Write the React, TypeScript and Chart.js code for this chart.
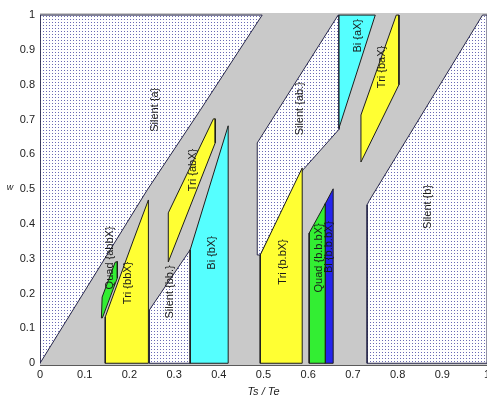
import React, { useEffect, useRef } from "react";
import { Chart, registerables } from "chart.js";

Chart.register(...registerables);

// Tick values on both axes
const xTicks = [0, 0.1, 0.2, 0.3, 0.4, 0.5, 0.6, 0.7, 0.8, 0.9, 1];
const yTicks = [0, 0.1, 0.2, 0.3, 0.4, 0.5, 0.6, 0.7, 0.8, 0.9, 1];

// Region outlines as [Ts/Te, w] vertices
const silentA = [[0, 0], [0.24, 0.498], [0.359, 0.728], [0.497, 1], [0, 1]];
const silentAB = [[0.486, 0.311], [0.486, 0.633], [0.667, 1], [0.669, 1], [0.669, 0.672], [0.588, 0.555], [0.4927, 0.311]];
const silentBB = [[0.2447, 0], [0.336, 0], [0.336, 0.326], [0.2447, 0.153]];
const silentB = [[0.7318, 0], [1, 0], [1, 1], [0.99, 1], [0.737, 0.468], [0.7318, 0.455]];

const quadABBX = [[0.1374, 0.13], [0.139, 0.19], [0.168, 0.29], [0.173, 0.292], [0.173, 0.245], [0.1395, 0.13]];
const triBBX = [[0.146, 0], [0.2425, 0], [0.2425, 0.469], [0.209, 0.354], [0.146, 0.133]];
const triABX = [[0.287, 0.291], [0.287, 0.432], [0.388, 0.702], [0.392, 0.702], [0.392, 0.633]];
const biBX = [[0.336, 0], [0.421, 0], [0.421, 0.682], [0.336, 0.326]];
const triBdotBX = [[0.4927, 0], [0.5866, 0], [0.5866, 0.561], [0.4927, 0.311]];
const quadBBBX = [[0.6022, 0], [0.638, 0], [0.638, 0.458], [0.6022, 0.374]];
const biBBBX = [[0.638, 0], [0.6559, 0], [0.6559, 0.501], [0.638, 0.458]];
const biAX = [[0.669, 1], [0.75, 1], [0.669, 0.676]];
const triBAX = [[0.718, 0.578], [0.718, 0.713], [0.797, 1], [0.803, 1], [0.803, 0.8]];

// Vertical region labels and their centres
const regionLabels = [
  "Silent {a}", "Tri {abX}", "Quad {abbX}", "Tri {bbX}", "Silent {bb.}", "Bi {bX}",
  "Silent {ab.}", "Bi {aX}", "Tri {baX}", "Tri {b.bX}", "Quad {b.b.bX}", "Bi {b.b.bX}", "Silent {b}",
];
const labelX = [0.258, 0.343, 0.1575, 0.1978, 0.2916, 0.3855, 0.582, 0.7117, 0.7654, 0.544, 0.6246, 0.647, 0.8682];
const labelY = [0.728, 0.555, 0.3026, 0.2307, 0.205, 0.317, 0.731, 0.9405, 0.851, 0.291, 0.3026, 0.334, 0.449];

const YELLOW = "#ffff33";
const CYAN = "#55ffff";
const GREEN = "#33ee33";
const BLUE = "#2424ee";
const GRAY = "#c9c9c9";
const FONT = "'Liberation Sans', Arial, sans-serif";

function dotPattern(): CanvasPattern | string {
  const c = document.createElement("canvas");
  c.width = 3;
  c.height = 3;
  const g = c.getContext("2d");
  if (!g) return "#ffffff";
  g.fillStyle = "#ffffff";
  g.fillRect(0, 0, 3, 3);
  g.fillStyle = "#6a6ab4";
  g.fillRect(1, 1, 1, 1);
  return g.createPattern(c, "repeat") || "#ffffff";
}

function patch(pts: number[][], fill: any, border = "#1e1e1e") {
  const data = pts.map(([x, y]) => ({ x, y }));
  data.push({ x: pts[0][0], y: pts[0][1] });
  return {
    data,
    fill: "shape",
    backgroundColor: fill,
    borderColor: border,
    borderWidth: 1,
    pointRadius: 0,
    pointHoverRadius: 0,
    tension: 0,
  };
}

const fmt = (v: number) => String(Math.round(v * 10) / 10);

export default function App() {
  const ref = useRef<HTMLCanvasElement>(null);

  useEffect(() => {
    const canvas = ref.current;
    if (!canvas) return;
    const dots = dotPattern();

    const background = {
      id: "plotBackground",
      beforeDraw(chart: any) {
        const { ctx, chartArea } = chart;
        ctx.save();
        ctx.fillStyle = GRAY;
        ctx.fillRect(chartArea.left, chartArea.top, chartArea.right - chartArea.left, chartArea.bottom - chartArea.top);
        ctx.restore();
      },
    };

    const labels = {
      id: "regionLabels",
      afterDatasetsDraw(chart: any) {
        const { ctx } = chart;
        const xs = chart.scales.x;
        const ys = chart.scales.y;
        ctx.save();
        ctx.fillStyle = "#1a1a1a";
        ctx.font = `11px ${FONT}`;
        ctx.textAlign = "center";
        ctx.textBaseline = "middle";
        regionLabels.forEach((t, i) => {
          ctx.save();
          ctx.translate(xs.getPixelForValue(labelX[i]), ys.getPixelForValue(labelY[i]));
          ctx.rotate(-Math.PI / 2);
          ctx.fillText(t, 0, 0);
          ctx.restore();
        });
        ctx.restore();
      },
    };

    const titles = {
      id: "axisTitles",
      afterDraw(chart: any) {
        const { ctx } = chart;
        const xs = chart.scales.x;
        const ys = chart.scales.y;
        ctx.save();
        ctx.fillStyle = "#1a1a1a";
        ctx.textAlign = "center";
        ctx.textBaseline = "middle";
        ctx.font = `italic 11px ${FONT}`;
        ctx.fillText("Ts / Te", xs.getPixelForValue(0.5), 392);
        ctx.font = `italic 9px ${FONT}`;
        ctx.fillText("w", 10, ys.getPixelForValue(0.505));
        ctx.restore();
      },
    };

    const chart = new Chart(canvas, {
      type: "line",
      data: {
        datasets: [
          patch(quadABBX, GREEN),
          patch(triBBX, YELLOW),
          patch(triABX, YELLOW),
          patch(biBX, CYAN),
          patch(triBdotBX, YELLOW),
          patch(quadBBBX, GREEN),
          patch(biBBBX, BLUE),
          patch(biAX, CYAN),
          patch(triBAX, YELLOW),
          patch(silentA, dots, "#26264a"),
          patch(silentAB, dots, "#26264a"),
          patch(silentBB, dots, "#26264a"),
          patch(silentB, dots, "#26264a"),
        ] as any,
      },
      options: {
        animation: false,
        responsive: true,
        maintainAspectRatio: false,
        layout: { padding: { top: 13, right: 13, left: 0, bottom: 0 } },
        plugins: { legend: { display: false }, tooltip: { enabled: false } },
        events: [],
        scales: {
          x: {
            type: "linear",
            min: 0,
            max: 1,
            grid: { display: false, drawTicks: false },
            border: { display: true, color: "#5a5a5a", width: 1 },
            ticks: {
              padding: 3,
              color: "#222",
              font: { family: FONT, size: 11 },
              maxRotation: 0,
              autoSkip: false,
              callback: (v: any) => fmt(Number(v)),
            },
            afterBuildTicks: (s: any) => {
              s.ticks = xTicks.map((value) => ({ value }));
            },
            afterFit: (s: any) => {
              s.height = 31;
            },
          },
          y: {
            type: "linear",
            min: -0.005,
            max: 1.006,
            grid: { display: false, drawTicks: false },
            border: { display: false },
            ticks: {
              padding: 5,
              color: "#222",
              font: { family: FONT, size: 11 },
              autoSkip: false,
              callback: (v: any) => fmt(Number(v)),
            },
            afterBuildTicks: (s: any) => {
              s.ticks = yTicks.map((value) => ({ value }));
            },
            afterFit: (s: any) => {
              s.width = 40;
            },
          },
        },
      } as any,
      plugins: [background, labels, titles],
    });

    return () => chart.destroy();
  }, []);

  return (
    <div style={{ position: "fixed", left: 0, top: 0, width: 500, height: 396, background: "#ffffff" }}>
      <canvas ref={ref} />
    </div>
  );
}
